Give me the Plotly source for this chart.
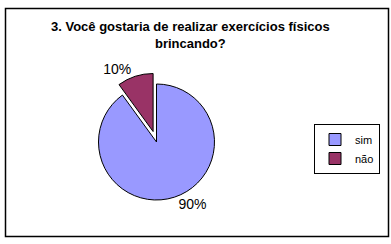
import plotly.graph_objects as go

labels = ["sim", "não"]
values = [90, 10]
colors = ["#9999FF", "#993366"]
pulls = [0, 0.19]
title_text = "3. Você gostaria de realizar exercícios físicos<br>brincando?"

W, H = 391, 244
cx, cy, r = 156.5, 142, 58
half = r * (1 + max(pulls))
FONT = "Liberation Sans, Arial"

fig = go.Figure(go.Pie(
    labels=labels, values=values, sort=False, direction="counterclockwise",
    rotation=0, pull=pulls,
    marker=dict(colors=colors, line=dict(color="black", width=1)),
    textinfo="percent", textposition="outside",
    texttemplate="%{percent:.0%}",
    textfont=dict(family=FONT, size=14, color="black"),
    domain=dict(x=[(cx - half) / W, (cx + half) / W],
                y=[(H - cy - half) / H, (H - cy + half) / H]),
    showlegend=True,
))

fig.update_layout(
    width=W, height=H,
    margin=dict(l=0, r=0, t=0, b=0),
    paper_bgcolor="white", plot_bgcolor="white",
    legend=dict(x=380 / W, y=1 - 124 / H, xanchor="right", yanchor="top",
                bordercolor="black", borderwidth=1, bgcolor="white",
                font=dict(family=FONT, size=11, color="black"),
                itemwidth=30, tracegroupgap=0),
    annotations=[dict(text="<b>" + title_text + "</b>", x=190 / W, y=1 - 35 / H,
                      xref="paper", yref="paper", xanchor="center", yanchor="middle",
                      showarrow=False,
                      font=dict(family=FONT, size=13, color="black"))],
    shapes=[dict(type="rect", xref="paper", yref="paper",
                 x0=5.5 / W, x1=388.5 / W, y0=1 - 236.5 / H, y1=1 - 8.5 / H,
                 line=dict(color="black", width=1.5))],
)

fig.write_html("out.html")
